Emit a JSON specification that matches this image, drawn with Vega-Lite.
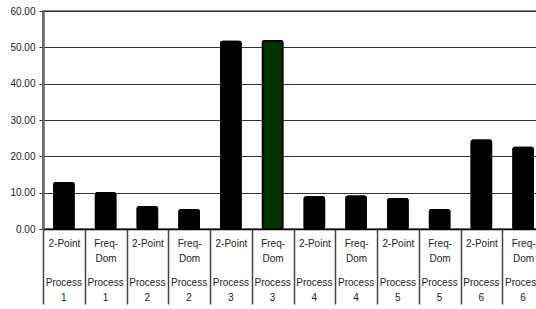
{
  "$schema": "https://vega.github.io/schema/vega-lite/v6.json",
  "width": 501,
  "height": 218,
  "autosize": {"type": "none"},
  "padding": {"left": 43, "top": 11, "right": 0, "bottom": 80},
  "background": "white",
  "config": {
    "view": {"stroke": "#888888", "strokeWidth": 2},
    "font": "Liberation Sans"
  },
  "data": {
    "values": [
      {"key": "2-Point|1", "method": "2-Point", "process": "Process 1", "value": 12.7},
      {"key": "Freq-Dom|1", "method": "Freq-Dom", "process": "Process 1", "value": 10.0},
      {"key": "2-Point|2", "method": "2-Point", "process": "Process 2", "value": 6.1},
      {"key": "Freq-Dom|2", "method": "Freq-Dom", "process": "Process 2", "value": 5.3},
      {"key": "2-Point|3", "method": "2-Point", "process": "Process 3", "value": 51.6},
      {"key": "Freq-Dom|3", "method": "Freq-Dom", "process": "Process 3", "value": 51.8},
      {"key": "2-Point|4", "method": "2-Point", "process": "Process 4", "value": 8.8},
      {"key": "Freq-Dom|4", "method": "Freq-Dom", "process": "Process 4", "value": 9.0},
      {"key": "2-Point|5", "method": "2-Point", "process": "Process 5", "value": 8.3},
      {"key": "Freq-Dom|5", "method": "Freq-Dom", "process": "Process 5", "value": 5.3},
      {"key": "2-Point|6", "method": "2-Point", "process": "Process 6", "value": 24.4},
      {"key": "Freq-Dom|6", "method": "Freq-Dom", "process": "Process 6", "value": 22.4}
    ]
  },
  "encoding": {
    "y": {
      "field": "value",
      "type": "quantitative",
      "scale": {"domain": [0, 60], "nice": false},
      "axis": {
        "title": null,
        "values": [0, 10, 20, 30, 40, 50, 60],
        "format": ".2f",
        "grid": true,
        "gridColor": "#333333",
        "gridWidth": 1,
        "domainColor": "#666666",
        "domainWidth": 2.5,
        "tickColor": "#333333",
        "tickSize": 4,
        "labelPadding": 4,
        "labelFontSize": 10,
        "labelColor": "#222222"
      }
    },
    "color": {
      "condition": {"test": "datum.key == 'Freq-Dom|3'", "value": "#003300"},
      "value": "#000000"
    }
  },
  "layer": [
    {
      "mark": {"type": "bar", "width": {"band": 0.48}, "stroke": "#000000", "strokeWidth": 1.5, "cornerRadius": 2},
      "encoding": {
        "x": {
          "field": "key",
          "type": "nominal",
          "sort": null,
          "scale": {"paddingInner": 0, "paddingOuter": 0},
          "axis": {
            "orient": "bottom",
            "title": null,
            "labelAngle": 0,
            "tickBand": "extent",
            "tickSize": 75,
            "tickColor": "#444444",
            "tickWidth": 1.5,
            "domainColor": "#000000",
            "domainWidth": 1.5,
            "labelPadding": -66,
            "labelFontSize": 10,
            "labelColor": "#222222",
            "labelLineHeight": 15,
            "labelBaseline": "top",
            "labelOverlap": false,
            "labelBound": false,
            "labelExpr": "split(datum.label,'|')[0]=='Freq-Dom' ? ['Freq-','Dom'] : split(datum.label,'|')[0]"
          }
        }
      }
    },
    {
      "mark": {"type": "bar", "width": {"band": 0.48}, "stroke": "#000000", "strokeWidth": 1.5, "cornerRadius": 2},
      "encoding": {
        "x": {
          "field": "key",
          "type": "nominal",
          "sort": null,
          "scale": {"paddingInner": 0, "paddingOuter": 0},
          "axis": {
            "orient": "bottom",
            "title": null,
            "labelAngle": 0,
            "ticks": false,
            "domain": false,
            "offset": 44,
            "labelPadding": 4,
            "labelFontSize": 10,
            "labelColor": "#222222",
            "labelLineHeight": 15,
            "labelBaseline": "top",
            "labelOverlap": false,
            "labelBound": false,
            "labelExpr": "['Process', split(datum.label,'|')[1]]"
          }
        }
      }
    }
  ],
  "resolve": {"axis": {"x": "independent"}}
}
